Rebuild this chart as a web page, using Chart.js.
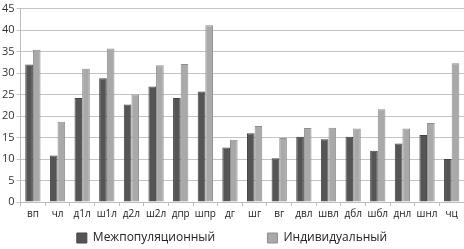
<!DOCTYPE html>
<html lang="ru">
<head>
<meta charset="UTF-8">
<title>Chart</title>
<script src="https://cdn.jsdelivr.net/npm/chart.js"></script>
<style>
  html, body { margin: 0; padding: 0; background: #fff; }
  #wrap { width: 464px; height: 249px; }
</style>
</head>
<body>
<div id="wrap"><canvas id="chart" width="464" height="249"></canvas></div>
<script>
  const categories = ['вп', 'чл', 'д1л', 'ш1л', 'д2л', 'ш2л', 'дпр', 'шпр', 'дг', 'шг', 'вг', 'двл', 'швл', 'дбл', 'шбл', 'днл', 'шнл', 'чц'];
  const interPop = [32.0, 10.8, 24.2, 28.8, 22.7, 26.9, 24.2, 25.7, 12.7, 16.0, 10.2, 15.2, 14.6, 15.2, 11.9, 13.6, 15.6, 10.0];
  const individual = [35.4, 18.7, 31.0, 35.7, 25.0, 31.8, 32.1, 41.1, 14.5, 17.7, 14.9, 17.2, 17.3, 17.1, 21.6, 17.1, 18.4, 32.3];
  const seriesNames = ['Межпопуляционный', 'Индивидуальный'];

  new Chart(document.getElementById('chart'), {
    type: 'bar',
    data: {
      labels: categories,
      datasets: [
        { label: seriesNames[0], data: interPop, backgroundColor: '#555555', borderColor: '#444444', borderWidth: 1 },
        { label: seriesNames[1], data: individual, backgroundColor: '#a9a9a9', borderColor: '#8f8f8f', borderWidth: 1 }
      ]
    },
    options: {
      responsive: false,
      animation: false,
      layout: { padding: { top: -16, right: 0, left: 0, bottom: -5 } },
      datasets: { bar: { categoryPercentage: 0.62, barPercentage: 1.0 } },
      plugins: {
        tooltip: { enabled: false },
        legend: {
          position: 'bottom',
          labels: {
            boxWidth: 10, boxHeight: 10, padding: 10,
            color: '#222', font: { family: 'Open Sans', size: 12 },
            generateLabels(chart) {
              const items = Chart.defaults.plugins.legend.labels.generateLabels(chart);
              // wider gap between the two legend entries
              items[0].text += '\u2003\u2003\u2003\u00a0\u00a0';
              return items;
            }
          }
        }
      },
      scales: {
        y: {
          min: 0, max: 45,
          ticks: { stepSize: 5, autoSkip: false, color: '#333', padding: 2, font: { family: 'Open Sans', size: 11 } },
          grid: { color: '#c4c4c4', drawTicks: true, tickLength: 4 },
          border: { color: '#bdbdbd' }
        },
        x: {
          ticks: { color: '#222', padding: 2, autoSkip: false, maxRotation: 0, font: { family: 'Open Sans', size: 10 } },
          grid: { drawOnChartArea: false, drawTicks: true, tickLength: 4, color: '#bdbdbd' },
          border: { color: '#bdbdbd' }
        }
      }
    }
  });
</script>
</body>
</html>
